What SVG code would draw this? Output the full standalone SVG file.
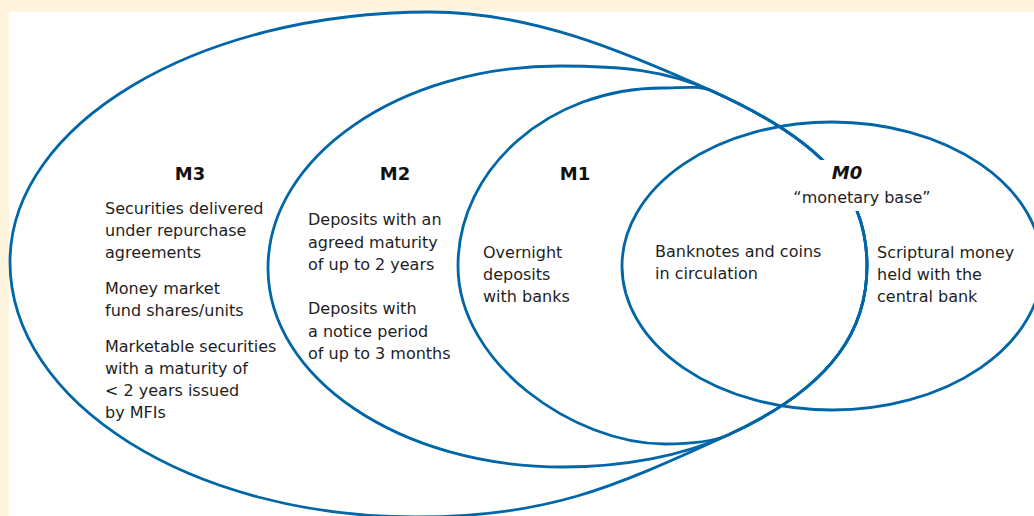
<svg xmlns="http://www.w3.org/2000/svg" width="1034" height="516" viewBox="0 0 1034 516">
<style>
.ring{fill:none;stroke:#0066a8;stroke-width:2.8}
.t{font-family:"DejaVu Sans","Liberation Sans",sans-serif;font-size:16px;fill:#1e1e1e}
.h{font-family:"DejaVu Sans","Liberation Sans",sans-serif;font-size:18px;font-weight:bold;fill:#111;text-anchor:middle}
</style>
<rect x="0" y="0" width="1034" height="516" fill="#fff5df"/>
<rect x="9" y="12" width="1025" height="504" fill="#ffffff"/>
<g id="connectors"></g>
<g id="m3">
<path class="ring" d="M10,262 C10,124 198,12 430,12 C530,12 621,50 712,91 C830,144 867,196 867,266 C867,326 837,385 728,435 C610,489 546,517 416,517 C192,517 10,403 10,262 Z"/>
<text class="h" x="190" y="180">M3</text>
<text class="t" x="105" y="214">Securities delivered</text>
<text class="t" x="105" y="236">under repurchase</text>
<text class="t" x="105" y="258">agreements</text>
<text class="t" x="105" y="294">Money market</text>
<text class="t" x="105" y="316">fund shares/units</text>
<text class="t" x="105" y="352">Marketable securities</text>
<text class="t" x="105" y="374">with a maturity of</text>
<text class="t" x="105" y="396">&lt; 2 years issued</text>
<text class="t" x="105" y="418">by MFIs</text>
</g>
<g id="m2">
<path class="ring" d="M712,91 C830,144 867,196 867,266 C867,326 837,385 728,435 C683,456 623,467 563,467 C400,467 268,378 268,268 C268,157 399,66 560,66 C620,66 666,70 712,91 Z"/>
<text class="h" x="395" y="180">M2</text>
<text class="t" x="308" y="225">Deposits with an</text>
<text class="t" x="308" y="248">agreed maturity</text>
<text class="t" x="308" y="270">of up to 2 years</text>
<text class="t" x="308" y="314">Deposits with</text>
<text class="t" x="308" y="337">a notice period</text>
<text class="t" x="308" y="359">of up to 3 months</text>
</g>
<g id="m1">
<path class="ring" d="M712,91 C830,144 867,196 867,266 C867,326 837,385 728,435 C710,443 685,444 665,444 C575,444 458,364 458,266 C458,168 550,88 662,88 C682,88 699,85 712,91 Z"/>
<text class="h" x="575" y="180">M1</text>
<text class="t" x="483" y="258">Overnight</text>
<text class="t" x="483" y="280">deposits</text>
<text class="t" x="483" y="302">with banks</text>
</g>
<g id="m0">
<ellipse class="ring" cx="832" cy="266" rx="210" ry="144"/>
<rect x="792" y="160" width="142" height="51" fill="#ffffff"/>
<text class="h" x="847" y="179" font-style="italic">M0</text>
<text class="t" x="862" y="203" text-anchor="middle">“monetary base”</text>
<text class="t" x="655" y="257">Banknotes and coins</text>
<text class="t" x="655" y="279">in circulation</text>
<text class="t" x="877" y="258">Scriptural money</text>
<text class="t" x="877" y="280">held with the</text>
<text class="t" x="877" y="302">central bank</text>
</g>
</svg>
